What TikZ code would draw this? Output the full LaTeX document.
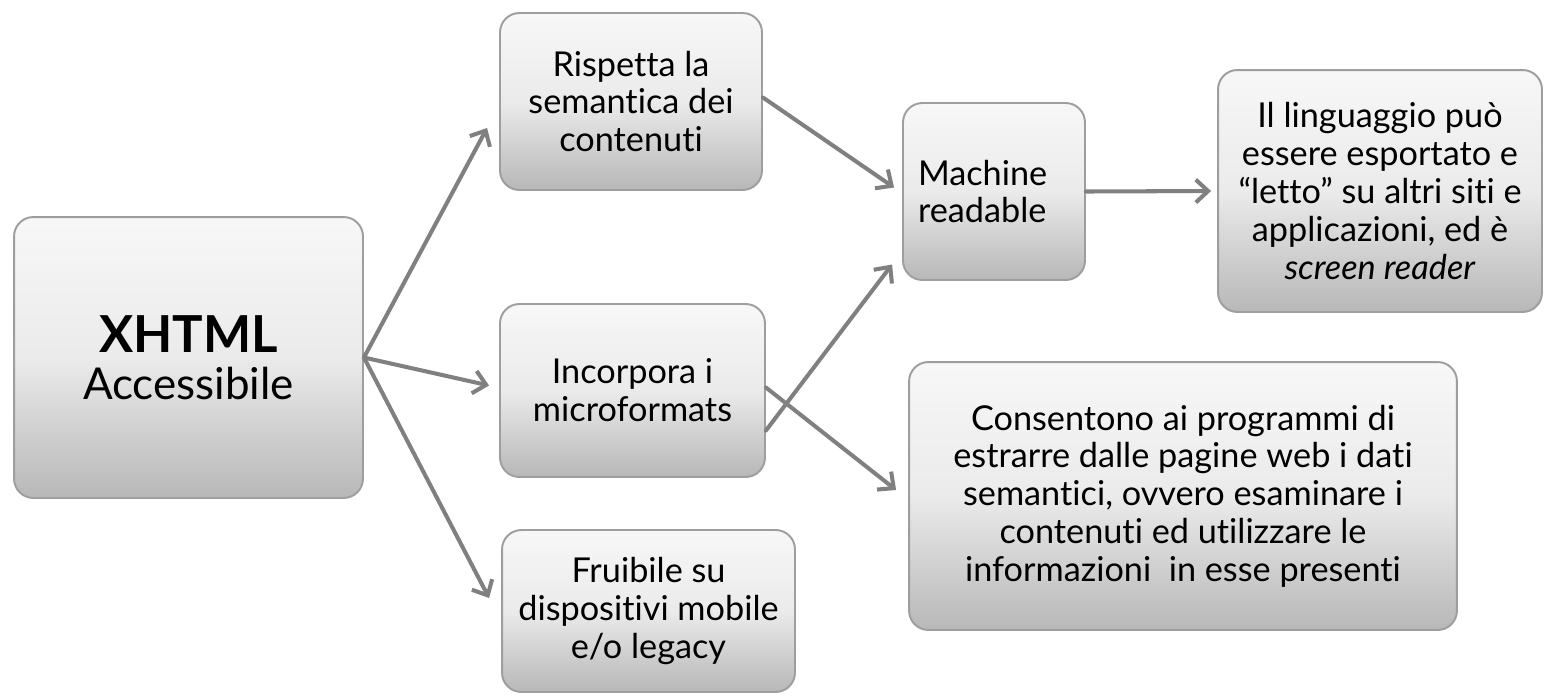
\documentclass[tikz,border=0pt]{standalone}
\usepackage{fontspec}
\setmainfont{Lato}[Ligatures={NoCommon}]
\usetikzlibrary{arrows.meta,calc}
\begin{document}
\begin{tikzpicture}[x=0.02cm,y=-0.02cm,
  box/.style={draw=black!38, line width=1.1pt, rounded corners=11pt,
    top color=black!3, bottom color=black!28, middle color=black!8,
    align=center, inner sep=2pt, font=\fontsize{19.5}{21.5}\selectfont},
  arr/.style={draw=black!50, line width=2.3pt, line cap=round,
    -{Straight Barb[length=7pt,width=13pt,line width=2.3pt]}}]
\useasboundingbox (0,0) rectangle (1548,698);
\node[box, minimum width=6.98cm, minimum height=5.62cm, font=\fontsize{25}{26.5}\selectfont] (X) at (188.5,357.5) {{\fontsize{29}{26.5}\selectfont\textbf{XHTML}}\\Accessibile};
\node[box, minimum width=5.24cm, minimum height=3.54cm] (R) at (631,101.5) {Rispetta la\\semantica dei\\contenuti};
\node[box, minimum width=5.3cm, minimum height=3.46cm] (I) at (632.5,390.5) {Incorpora i\\microformats};
\node[box, minimum width=5.86cm, minimum height=3.24cm] (F) at (648.5,611) {Fruibile su\\dispositivi mobile\\e/o legacy};
\node[box, minimum width=3.64cm, minimum height=3.54cm, text width=3.04cm, inner xsep=0.3cm, align=left] (M) at (994,191.5) {Machine\\readable};
\node[box, minimum width=6.48cm, minimum height=4.84cm] (L) at (1380,191) {Il linguaggio può\\essere esportato e\\“letto” su altri siti e\\applicazioni, ed è\\\textit{screen reader}};
\node[box, minimum width=10.96cm, minimum height=5.36cm] (C) at (1183,496) {Consentono ai programmi di\\estrarre dalle pagine web i dati\\semantici, ovvero esaminare i\\contenuti ed utilizzare le\\informazioni \ in esse presenti};
\draw[arr] (X.east) -- ($(R.west)+(-12,26.5)$);
\draw[arr] (X.east) -- ($(I.west)+(-10,-5)$);
\draw[arr] (X.east) -- ($(F.west)+(-12,-13)$);
\draw[arr] ($(R.east)+(0,-4)$) -- ($(M.west)+(-8,-4)$);
\draw[arr] ($(I.east)+(0,40)$) -- ($(M.west)+(-10,73)$);
\draw[arr] ($(I.east)+(0,-3)$) -- ($(C.west)+(-12,-6)$);
\draw[arr] (M.east) -- ($(L.west)+(-6,0)$);
\end{tikzpicture}
\end{document}
